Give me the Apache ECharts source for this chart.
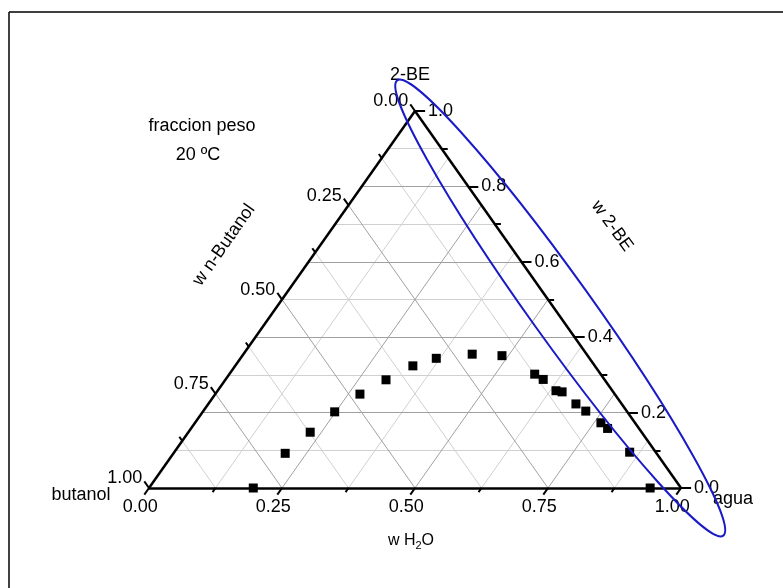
<!DOCTYPE html>
<html>
<head>
<meta charset="utf-8">
<script src="https://cdn.jsdelivr.net/npm/echarts@6/dist/echarts.min.js"></script>
<style>
  html, body { margin: 0; padding: 0; background: #fff; }
  #chart { width: 783px; height: 588px; }
</style>
</head>
<body>
<div id="chart"></div>
<script>
// puntos medidos (fraccion peso), butanol = 1 - agua - 2BE
var wH2O = [0.196, 0.210, 0.229, 0.248, 0.272, 0.302, 0.334, 0.368, 0.430, 0.488,
            0.574, 0.597, 0.636, 0.649, 0.691, 0.719, 0.763, 0.783, 0.856, 0.942];
var w2BE = [0.000, 0.092, 0.148, 0.202, 0.249, 0.287, 0.324, 0.344, 0.355, 0.351,
            0.302, 0.288, 0.258, 0.255, 0.223, 0.204, 0.173, 0.158, 0.095, 0.000];

// ticks de los ejes (agua y butanol cada 0.125, 2-BE cada 0.1)
var ticksQ = [0, 0.125, 0.25, 0.375, 0.5, 0.625, 0.75, 0.875, 1];
var labelsQ = ['0.00', '0.25', '0.50', '0.75', '1.00'];
var ticksE = [0, 0.1, 0.2, 0.3, 0.4, 0.5, 0.6, 0.7, 0.8, 0.9, 1];
var labelsE = ['0.0', '0.2', '0.4', '0.6', '0.8', '1.0'];

var FONT = "'Liberation Sans', Arial, sans-serif";
var FS = 18;

// ternario -> cartesiano (agua, 2-BE)
function xy(h, e) { return [h + e / 2, e]; }

var gridMajor = [], gridMinor = [];
ticksE.forEach(function (e, i) {
  if (e === 0 || e === 1) return;
  var seg = { coords: [xy(0, e), xy(1 - e, e)] };
  (i % 2 === 0 ? gridMajor : gridMinor).push(seg);
});
ticksQ.forEach(function (q, i) {
  if (q === 0 || q === 1) return;
  // agua constante
  var a = { coords: [xy(q, 0), xy(q, 1 - q)] };
  // butanol constante
  var b = { coords: [xy(0, 1 - q), xy(1 - q, 0)] };
  (i % 2 === 0 ? gridMajor : gridMinor).push(a, b);
});

var edges = [
  { coords: [xy(0, 0), xy(1, 0)] },
  { coords: [xy(1, 0), xy(0, 1)] },
  { coords: [xy(0, 1), xy(0, 0)] }
];

var ticks = [];
var labBottom = [], labRight = [], labLeft = [];
ticksQ.forEach(function (q, i) {
  var major = i % 2 === 0;
  var d = major ? 0.0175 : 0.011;
  // eje inferior (agua)
  ticks.push({ coords: [xy(q, 0), xy(q, -d)] });
  // eje izquierdo (butanol = q)
  ticks.push({ coords: [xy(0, 1 - q), xy(-d, 1 - q + d)] });
  if (major) {
    labBottom.push({ value: xy(q, -d), name: labelsQ[i / 2] });
    labLeft.push({ value: xy(-d, 1 - q + d), name: labelsQ[i / 2] });
  }
});
ticksE.forEach(function (e, i) {
  var major = i % 2 === 0;
  var d = major ? 0.019 : 0.0115;
  ticks.push({ coords: [xy(1 - e, e), xy(1 - e + d, e)] });
  if (major) labRight.push({ value: xy(1 - e + d, e), name: labelsE[i / 2] });
});

var points = wH2O.map(function (h, i) { return xy(h, w2BE[i]); });

function labelSeries(data, pos, dist, off) {
  return {
    type: 'scatter', data: data, symbolSize: 0, clip: false, silent: true,
    itemStyle: { opacity: 1 },
    label: {
      show: true, position: pos, distance: dist, offset: off,
      formatter: '{b}', color: '#000', fontSize: FS, fontFamily: FONT
    }
  };
}

var chart = echarts.init(document.getElementById('chart'));
chart.setOption({
  animation: false,
  grid: { left: 149, right: 102, top: 111, bottom: 100 },
  xAxis: { type: 'value', min: 0, max: 1, show: false },
  yAxis: { type: 'value', min: 0, max: 1, show: false },
  series: [
    { type: 'lines', coordinateSystem: 'cartesian2d', data: gridMinor, clip: false, silent: true,
      lineStyle: { color: '#d0d0d0', width: 1, opacity: 1 }, z: 1 },
    { type: 'lines', coordinateSystem: 'cartesian2d', data: gridMajor, clip: false, silent: true,
      lineStyle: { color: '#a0a0a0', width: 1, opacity: 1 }, z: 1 },
    { type: 'lines', coordinateSystem: 'cartesian2d', data: edges, clip: false, silent: true,
      lineStyle: { color: '#000', width: 2.5, opacity: 1 }, z: 2 },
    { type: 'lines', coordinateSystem: 'cartesian2d', data: ticks, clip: false, silent: true,
      lineStyle: { color: '#000', width: 2, opacity: 1 }, z: 2 },
    labelSeries(labBottom, 'bottom', 3, [-4, 0]),
    labelSeries(labRight, 'right', 3, [0, 0]),
    labelSeries(labLeft, 'left', 2, [0, -3]),
    { type: 'scatter', data: points, symbol: 'rect', symbolSize: 9, clip: false,
      itemStyle: { color: '#000', opacity: 1 }, z: 5 }
  ]
});

var c = chart.convertToPixel({ gridIndex: 0 }, [0.773, 0.4775]);

function txt(x, y, s, rot) {
  return {
    type: 'text', x: x, y: y, rotation: rot || 0, silent: true,
    style: { text: s, fill: '#000', fontSize: FS, fontFamily: FONT,
             align: 'center', verticalAlign: 'middle', textAlign: 'center', textVerticalAlign: 'middle' }
  };
}

chart.setOption({
  graphic: [
    { type: 'line', shape: { x1: 9, y1: 12, x2: 9, y2: 588 }, style: { stroke: '#000', lineWidth: 1.5 } },
    { type: 'line', shape: { x1: 9, y1: 12, x2: 783, y2: 12 }, style: { stroke: '#000', lineWidth: 1.5 } },
    {
      type: 'ellipse', x: c[0], y: c[1], rotation: -54.4 * Math.PI / 180,
      shape: { cx: 0, cy: 0, rx: 280, ry: 31 },
      style: { fill: 'none', stroke: '#1a1ac6', lineWidth: 2 }, z: 10
    },
    txt(202, 126, 'fraccion peso'),
    txt(198, 155, '20 ºC'),
    txt(410, 75, '2-BE'),
    txt(733, 499, 'agua'),
    txt(81, 495, 'butanol'),
    txt(224, 245, 'w n-Butanol', 55 * Math.PI / 180),
    txt(612, 226, 'w 2-BE', -54 * Math.PI / 180),
    {
      type: 'text', x: 411, y: 541, silent: true,
      style: {
        text: '{n|w H}{s|2}{n|O}', fill: '#000', align: 'center', verticalAlign: 'middle',
        textAlign: 'center', textVerticalAlign: 'middle',
        rich: {
          n: { fontSize: 16, fontFamily: FONT, fill: '#000', lineHeight: 20 },
          s: { fontSize: 11, fontFamily: FONT, fill: '#000', lineHeight: 20, padding: [10, 0, 0, 0] }
        }
      }
    }
  ]
});
</script>
</body>
</html>
